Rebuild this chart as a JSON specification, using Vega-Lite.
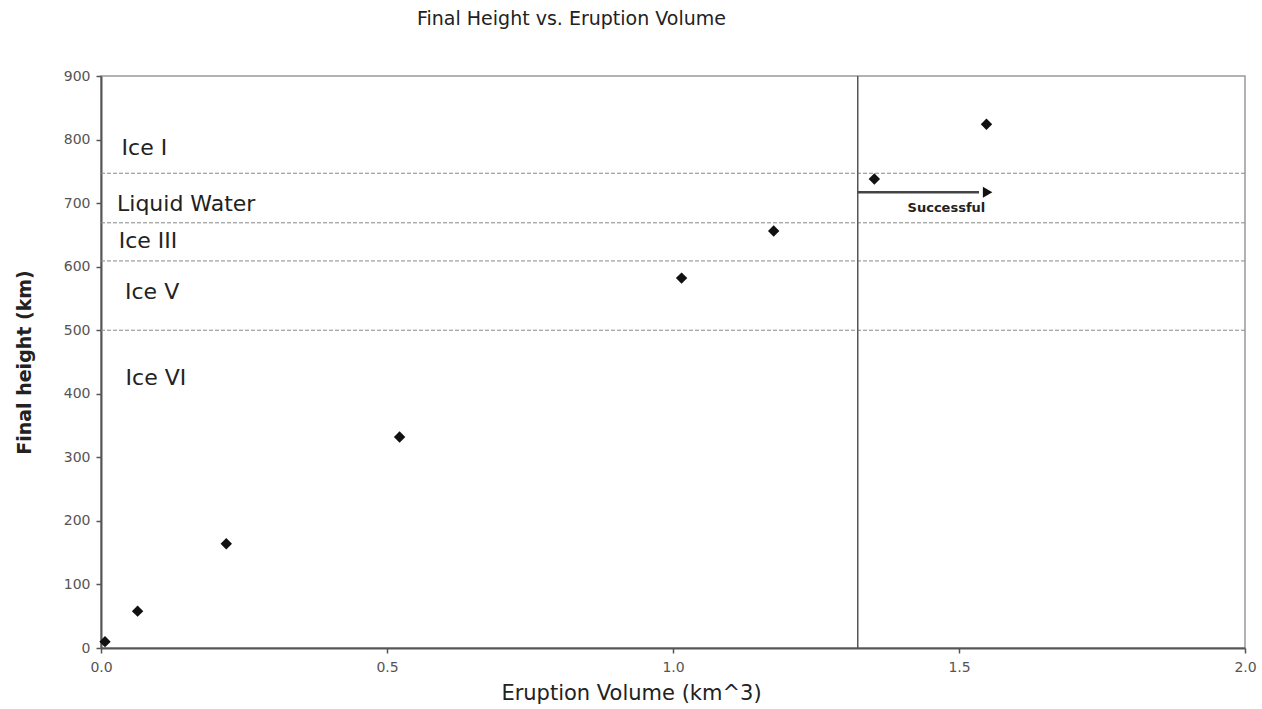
{
  "$schema": "https://vega.github.io/schema/vega-lite/v6.json",
  "autosize": {"type": "none"},
  "padding": {"left": 101, "top": 76, "right": 17, "bottom": 61},
  "width": 1144,
  "height": 572,
  "background": "white",
  "title": {
    "text": "Final Height vs. Eruption Volume",
    "font": "DejaVu Sans",
    "fontSize": 19,
    "fontWeight": "normal",
    "color": "#222",
    "anchor": "start",
    "frame": "group",
    "dx": 316,
    "offset": 40
  },
  "config": {
    "view": {"stroke": "#999", "strokeWidth": 1.5},
    "font": "DejaVu Sans"
  },
  "layer": [
    {
      "data": {"values": [
        {"h": 747}, {"h": 669}, {"h": 609}, {"h": 500}
      ]},
      "mark": {"type": "rule", "color": "#888", "strokeDash": [4, 2], "strokeWidth": 1},
      "encoding": {
        "y": {"field": "h", "type": "quantitative", "scale": {"domain": [0, 900]}}
      }
    },
    {
      "data": {"values": [{"v": 1.323}]},
      "mark": {"type": "rule", "color": "#555", "strokeWidth": 1.5},
      "encoding": {
        "x": {"field": "v", "type": "quantitative", "scale": {"domain": [0, 2]}}
      }
    },
    {
      "data": {"values": [{"x1": 1.323, "x2": 1.535, "y": 717}]},
      "mark": {"type": "rule", "color": "#444", "strokeWidth": 2.5},
      "encoding": {
        "x": {"field": "x1", "type": "quantitative"},
        "x2": {"field": "x2"},
        "y": {"field": "y", "type": "quantitative"}
      }
    },
    {
      "data": {"values": [{"x": 1.55, "y": 717}]},
      "mark": {"type": "point", "shape": "triangle-right", "filled": true, "color": "#111", "size": 120, "opacity": 1},
      "encoding": {
        "x": {"field": "x", "type": "quantitative"},
        "y": {"field": "y", "type": "quantitative"}
      }
    },
    {
      "data": {"values": [{"x": 1.478, "y": 693, "t": "Successful"}]},
      "mark": {"type": "text", "font": "DejaVu Sans", "fontSize": 13, "fontWeight": "bold", "color": "#222", "align": "center", "baseline": "middle"},
      "encoding": {
        "x": {"field": "x", "type": "quantitative"},
        "y": {"field": "y", "type": "quantitative"},
        "text": {"field": "t"}
      }
    },
    {
      "data": {"values": [
        {"x": 0.036, "y": 787, "t": "Ice I"},
        {"x": 0.028, "y": 699, "t": "Liquid Water"},
        {"x": 0.031, "y": 640, "t": "Ice III"},
        {"x": 0.042, "y": 560, "t": "Ice V"},
        {"x": 0.043, "y": 425, "t": "Ice VI"}
      ]},
      "mark": {"type": "text", "font": "DejaVu Sans", "fontSize": 22, "color": "#222", "align": "left", "baseline": "middle"},
      "encoding": {
        "x": {"field": "x", "type": "quantitative"},
        "y": {"field": "y", "type": "quantitative"},
        "text": {"field": "t"}
      }
    },
    {
      "data": {"values": [
        {"volume": 0.007, "height": 10},
        {"volume": 0.064, "height": 58},
        {"volume": 0.219, "height": 164},
        {"volume": 0.522, "height": 332},
        {"volume": 1.015, "height": 582},
        {"volume": 1.176, "height": 656},
        {"volume": 1.352, "height": 738},
        {"volume": 1.548, "height": 824}
      ]},
      "mark": {"type": "point", "shape": "diamond", "filled": true, "color": "#111", "size": 130, "opacity": 1},
      "encoding": {
        "x": {
          "field": "volume", "type": "quantitative",
          "scale": {"domain": [0, 2], "nice": false},
          "axis": {
            "title": "Eruption Volume (km^3)",
            "values": [0, 0.5, 1, 1.5, 2],
            "format": ".1f",
            "grid": false,
            "labelFlush": false,
            "domainColor": "#555", "domainWidth": 2,
            "tickColor": "#555", "tickSize": 5, "tickWidth": 1.5,
            "labelFont": "DejaVu Sans", "labelFontSize": 14, "labelColor": "#555",
            "labelPadding": 7,
            "titleFont": "DejaVu Sans", "titleFontSize": 21, "titleFontWeight": "normal", "titleColor": "#222",
            "titleX": 530, "titleY": 45, "titleAlign": "center", "titleBaseline": "middle"
          }
        },
        "y": {
          "field": "height", "type": "quantitative",
          "scale": {"domain": [0, 900], "nice": false},
          "axis": {
            "title": "Final height (km)",
            "values": [0, 100, 200, 300, 400, 500, 600, 700, 800, 900],
            "grid": false,
            "domainColor": "#555", "domainWidth": 2,
            "tickColor": "#555", "tickSize": 5, "tickWidth": 1.5,
            "labelFont": "DejaVu Sans", "labelFontSize": 14, "labelColor": "#555",
            "labelPadding": 6,
            "titleFont": "DejaVu Sans", "titleFontSize": 19, "titleFontWeight": "bold", "titleColor": "#222",
            "titleX": -77, "titleY": 286, "titleAngle": -90, "titleAlign": "center", "titleBaseline": "middle"
          }
        }
      }
    }
  ]
}
